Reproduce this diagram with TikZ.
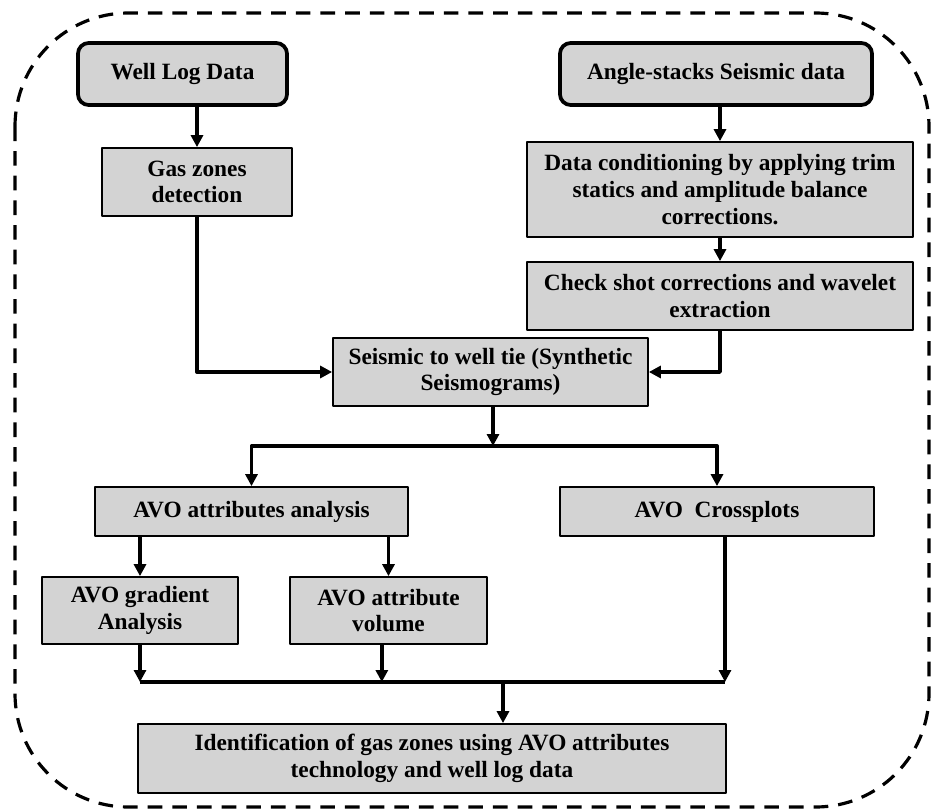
\documentclass[tikz,border=0pt]{standalone}
\usepackage{fontspec}
\setmainfont{Liberation Serif}
\usetikzlibrary{arrows.meta}
\definecolor{boxgray}{RGB}{211,211,211}
\begin{document}
\begin{tikzpicture}[x=0.75pt,y=-0.75pt,>={Triangle[length=9pt,width=9pt]},line join=round,
        box/.style={draw,fill=boxgray,line width=1.3pt,align=center,inner sep=0pt,font=\fontsize{17.5}{20}\selectfont\bfseries},
        inbox/.style={box,rounded corners=8pt,line width=2.8pt},
        flow/.style={->,line width=2.5pt}]
        \useasboundingbox (0,0) rectangle (933,810);
        \draw[line width=2.4pt,dash pattern=on 11pt off 7.5pt,rounded corners=85pt] (15,13) rectangle (929,807);

        \node[inbox,minimum width=156.75pt,minimum height=46.5pt] (well) at (182.5,74) {Well Log Data};
        \node[inbox,minimum width=234pt,minimum height=46.5pt] (angle) at (716,74) {Angle-stacks Seismic data};
        \node[box,minimum width=142.5pt,minimum height=51pt] (gas) at (197,182) {Gas zones\\detection};
        \node[box,minimum width=289.5pt,minimum height=71.25pt] (cond) at (720,189.5) {Data conditioning by applying trim\\statics and amplitude balance\\corrections.};
        \node[box,minimum width=289.5pt,minimum height=51pt] (check) at (720,296) {Check shot corrections and wavelet\\extraction};
        \node[box,minimum width=236.25pt,minimum height=51pt] (tie) at (490.5,372) {Seismic to well tie (Synthetic\\Seismograms)};
        \node[box,minimum width=234.75pt,minimum height=36.75pt] (attr) at (251.5,511.5) {AVO attributes analysis};
        \node[box,minimum width=235.5pt,minimum height=36.75pt] (cross) at (717,511.5) {AVO\ \ Crossplots};
        \node[box,minimum width=147pt,minimum height=50.25pt] (grad) at (140,610.5) {AVO gradient\\Analysis};
        \node[box,minimum width=147.75pt,minimum height=50.25pt] (vol) at (388.5,610.5) {AVO attribute\\volume};
        \node[box,minimum width=441pt,minimum height=51.75pt] (ident) at (432,758.5) {Identification of gas zones using AVO attributes\\technology and well log data};

        \coordinate (split) at (493,446);
        \coordinate (merge) at (503,682);

        \draw[flow] (well.south -| gas.north) -- (gas.north);
        \draw[flow] (angle.south -| cond.north) -- (cond.north);
        \draw[flow] (cond.south) -- (check.north);
        \draw[flow] (gas.south) |- (tie.west);
        \draw[flow] (check.south) |- (tie.east);
        \draw[flow] (tie.south -| split) -- (split);
        \draw[flow] (split) -| (attr.north);
        \draw[flow] (split) -| (cross.north);
        \draw[flow] (attr.south -| grad.north) -- (grad.north);
        \draw[flow] (vol.north |- attr.south) -- (vol.north);
        \draw[flow] (grad.south) -- (grad.south |- merge);
        \draw[flow] ([xshift=-5pt]vol.south) -- ([xshift=-5pt]vol.south |- merge);
        \draw[flow] ([xshift=6pt]cross.south) -- ([xshift=6pt]cross.south |- merge);
        \draw[line width=2.8pt] (grad.south |- merge) -- ([xshift=6pt]cross.south |- merge);
        \draw[flow] (merge) -- (merge |- ident.north);

    \end{tikzpicture}
\end{document}
